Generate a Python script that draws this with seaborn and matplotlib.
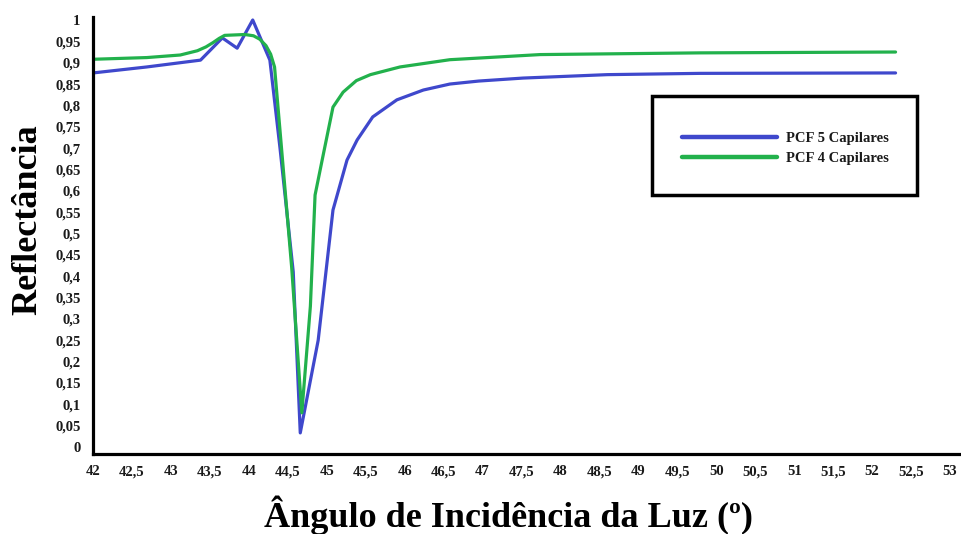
import matplotlib
matplotlib.use("Agg")
import matplotlib.pyplot as plt
import seaborn as sns
import pandas as pd
from matplotlib.patches import Rectangle

# Reflectance curves vs. angle of incidence
angle_pcf5 = [42.00, 42.69, 43.38, 43.66, 43.85, 44.05, 44.27, 44.40, 44.57, 44.66,
              44.89, 45.08, 45.26, 45.39, 45.59, 45.90, 46.24, 46.58, 46.95, 47.52,
              48.60, 49.79, 52.30]
refl_pcf5 = [0.876, 0.890, 0.906, 0.958, 0.934, 1.000, 0.906, 0.700, 0.410, 0.033,
             0.250, 0.555, 0.672, 0.719, 0.773, 0.813, 0.836, 0.850, 0.857, 0.864,
             0.872, 0.875, 0.876]

angle_pcf4 = [42.00, 42.69, 43.12, 43.34, 43.45, 43.54, 43.62, 43.69, 43.95, 44.06,
              44.14, 44.22, 44.28, 44.33, 44.41, 44.55, 44.68, 44.79, 44.85, 44.95,
              45.08, 45.21, 45.38, 45.56, 45.94, 46.58, 47.74, 49.79, 52.30]
refl_pcf4 = [0.908, 0.912, 0.918, 0.928, 0.937, 0.947, 0.957, 0.964, 0.966, 0.963,
             0.955, 0.940, 0.920, 0.890, 0.720, 0.420, 0.080, 0.330, 0.590, 0.680,
             0.796, 0.831, 0.858, 0.872, 0.890, 0.907, 0.919, 0.923, 0.925]

series_labels = ["PCF 5 Capilares", "PCF 4 Capilares"]
series_colors = ["#3F48CC", "#22B14C"]

x_ticks = [42 + 0.5 * i for i in range(23)]
x_tick_labels = ["42", "42,5", "43", "43,5", "44", "44,5", "45", "45,5", "46", "46,5",
                 "47", "47,5", "48", "48,5", "49", "49,5", "50", "50,5", "51", "51,5",
                 "52", "52,5", "53"]
y_ticks = [0.05 * i for i in range(21)]
y_tick_labels = ["0", "0,05", "0,1", "0,15", "0,2", "0,25", "0,3", "0,35", "0,4", "0,45",
                 "0,5", "0,55", "0,6", "0,65", "0,7", "0,75", "0,8", "0,85", "0,9", "0,95", "1"]

df = pd.concat([
    pd.DataFrame({"angle": angle_pcf5, "refl": refl_pcf5, "serie": series_labels[0]}),
    pd.DataFrame({"angle": angle_pcf4, "refl": refl_pcf4, "serie": series_labels[1]}),
], ignore_index=True)

sns.set_style("white")
plt.rcParams["font.family"] = ["Liberation Serif", "DejaVu Serif"]
plt.rcParams["font.weight"] = "bold"
plt.rcParams["text.color"] = "#1a1a1a"
plt.rcParams["xtick.color"] = "#1a1a1a"
plt.rcParams["ytick.color"] = "#1a1a1a"

W, H = 961, 534
fig = plt.figure(figsize=(W / 100, H / 100), dpi=100)
ax = fig.add_axes([93 / W, 1 - 454 / H, 1 - 93 / W, (454 - 17) / H])

sns.lineplot(data=df, x="angle", y="refl", hue="serie", palette=series_colors,
             hue_order=series_labels, sort=False, estimator=None, linewidth=2.3,
             ax=ax, legend=False)
for line in ax.get_lines():
    line.set_solid_joinstyle("round")

ax.set_xlim(42, 53.14)
ax.set_ylim(-0.0164, 1.007)
ax.set_xticks(x_ticks)
ax.set_xticklabels(x_tick_labels, fontsize=10.5, fontweight="bold")
ax.set_yticks(y_ticks)
ax.set_yticklabels(y_tick_labels, fontsize=10.5, fontweight="bold")
ax.tick_params(axis="both", length=0)
ax.tick_params(axis="x", pad=8)
ax.tick_params(axis="y", pad=9)
ax.set_xlabel("")
ax.set_ylabel("")

for side in ["top", "right"]:
    ax.spines[side].set_visible(False)
for side in ["left", "bottom"]:
    ax.spines[side].set_color("black")
    ax.spines[side].set_linewidth(2.3)

fig.text(508 / W, 1 - 515 / H, "Ângulo de Incidência da Luz (º)", ha="center", va="center",
         fontsize=26, fontweight="bold", color="black")
fig.text(28 / W, 1 - 220 / H, "Reflectância", ha="center", va="center", rotation=90,
         fontsize=26, fontweight="bold", color="black")

# Legend box
fig.patches.append(Rectangle((652 / W, 1 - 195 / H), (917 - 652) / W, (195 - 96) / H,
                             transform=fig.transFigure, fill=False, edgecolor="black",
                             linewidth=2.5, zorder=5))
handles = [plt.Line2D([], [], color=c, linewidth=3.2, solid_capstyle="round")
           for c in series_colors]
fig.legend(handles, series_labels, loc="center left",
           bbox_to_anchor=(669 / W, 1 - 148.5 / H), frameon=False,
           prop={"family": "Liberation Serif", "weight": "bold", "size": 10.5},
           handlelength=6.5, handletextpad=0.6, labelspacing=0.45, borderpad=0.4)

fig.savefig("out.png", dpi=100)
